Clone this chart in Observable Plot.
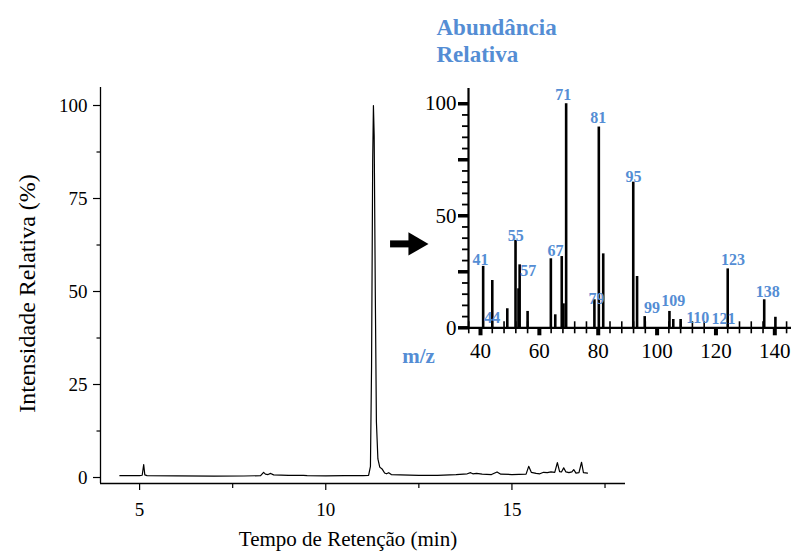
<!DOCTYPE html>
<html><head><meta charset="utf-8">
<script src="https://cdn.jsdelivr.net/npm/d3@7"></script>
<script src="https://cdn.jsdelivr.net/npm/@observablehq/plot@0.6"></script>
<style>
body{margin:0;background:#fff}
#wrap{position:relative;width:791px;height:552px}
#wrap svg{position:absolute;max-width:none}
</style>
</head><body><div id="wrap"></div>
<script>
// Chromatogram (retention time in min, relative intensity in %)
const chromTime = [4.47,5.0,5.07,5.11,5.14,5.2,6.0,7.0,7.8,8.25,8.33,8.38,8.45,8.52,8.6,9.0,9.4,9.5,10.0,10.5,11.0,11.15,11.2,11.23,11.26,11.28,11.3,11.33,11.36,11.4,11.45,11.52,11.58,11.63,11.69,11.76,12.0,12.5,13.0,13.5,13.8,13.89,13.95,14.05,14.2,14.45,14.6,14.7,15.0,15.38,15.45,15.52,15.65,15.75,15.85,15.95,16.05,16.15,16.22,16.28,16.33,16.39,16.45,16.53,16.61,16.66,16.72,16.8,16.87,16.92,17.03];
const chromIntensity = [0.5,0.5,0.6,3.5,0.7,0.5,0.45,0.35,0.4,0.5,1.4,0.9,0.8,1.1,0.7,0.55,0.6,0.5,0.45,0.5,0.5,0.6,3,30,85,100,92,50,15,5,2.8,2.2,1.2,1.0,1.3,0.8,0.7,0.6,0.6,0.8,1.0,1.3,1.0,1.1,0.9,0.8,1.5,0.9,0.8,0.9,3.0,1.4,1.1,1.0,1.4,1.3,1.5,1.4,4.0,1.6,1.5,2.6,1.5,1.3,1.5,2.1,1.2,1.3,4.1,1.3,1.2];

// Mass spectrum (inset)
const spectrumMz = [40.9,44.0,49.1,51.9,52.9,53.3,56.0,63.9,65.4,67.6,68.2,69.1,78.7,80.2,81.7,91.9,93.2,95.8,104.2,105.5,108.0,124.0,136.4,140.2];
const spectrumAbundance = [27.4,21.1,8.5,39,17.4,28.1,7.3,30.8,5.8,31.8,10.7,100,12.5,89.6,33,65,22.9,5,7.3,3.7,3.7,26.3,12.5,4.7];
const peakLabels = ["41","44","55","57","67","71","79","81","95","99","109","110","121","123","138"];
const peakLabelMz = [40.0,44.0,52.0,56.2,65.5,68.1,79.4,80.0,92.0,98.3,105.5,113.8,122.6,125.8,137.6];
const peakLabelAbundance = [30.4,4.3,41.2,25.6,34.2,104.1,12.9,93.7,67.5,8.7,11.9,4.4,3.8,30.3,16.0];

// Ticks
const chromXTicks = [5,10,15];
const chromXMinorTicks = [7.5,12.5,17.5];
const chromYTicks = [0,25,50,75,100];
const chromYMinorTicks = [12.5,37.5,62.5,87.5];
const insetXTicks = [40,60,80,100,120,140];
const insetXMinorTicks = [36,44,48,52,56,64,68,72,76,84,88,92,96,104,108,112,116,124,128,132,136,144];
const insetYLabeledTicks = [0,50,100];
const insetYMajorTicks = [25,75];
const insetYMinorTicks = [5,10,15,20,30,35,40,45,55,60,65,70,80,85,90,95];

// Texts
const xTitle = "Tempo de Retenção (min)";
const yTitle = "Intensidade Relativa (%)";
const insetTitle = "Abundância\nRelativa";
const insetXTitle = "m/z";

// Arrow annotation (in chromatogram units)
const arrowShaftTime = [11.74, 12.28];
const arrowHeadTime = 12.40;
const arrowLevel = 62.8;

const serif = "'Liberation Serif','Times New Roman',serif";
const blue = "#548dd4";

const chrom = chromTime.map((t, i) => ({t, v: chromIntensity[i]}));
const spectrum = spectrumMz.map((mz, i) => ({mz, a: spectrumAbundance[i]}));
const labels = peakLabels.map((text, i) => ({text, mz: peakLabelMz[i], a: peakLabelAbundance[i]}));

const xDom = [3.95, 18.05], yDom = [-1.61, 104.84];
const main = Plot.plot({
  width: 791, height: 552,
  marginLeft: 100, marginRight: 166, marginTop: 87, marginBottom: 69,
  style: {fontFamily: serif, fontSize: "19px", background: "transparent", color: "#000", overflow: "visible"},
  x: {domain: xDom}, y: {domain: yDom},
  marks: [
    Plot.ruleX([xDom[0]], {y1: yDom[0], y2: yDom[1], stroke: "#000", strokeWidth: 1.3}),
    Plot.ruleY([yDom[0]], {x1: xDom[0], x2: xDom[1], stroke: "#000", strokeWidth: 1.3}),
    Plot.axisY({ticks: chromYTicks, tickSize: 7, tickPadding: 6, fontSize: 19, label: null, stroke: "#000", strokeWidth: 1.2}),
    Plot.axisY({ticks: chromYMinorTicks, tickSize: 3.5, tickFormat: () => "", label: null, stroke: "#000", strokeWidth: 1.2}),
    Plot.axisX({ticks: chromXTicks, tickSize: 7, tickPadding: 12, fontSize: 19, label: null, stroke: "#000", strokeWidth: 1.2}),
    Plot.axisX({ticks: chromXMinorTicks, tickSize: 5, tickFormat: () => "", label: null, stroke: "#000", strokeWidth: 1.2}),
    Plot.line(chrom, {x: "t", y: "v", stroke: "#000", strokeWidth: 1.2}),
    Plot.text([xTitle], {frameAnchor: "bottom", textAnchor: "middle", lineAnchor: "middle", dx: -15, dy: 56, fontSize: 21, fill: "#000"}),
    Plot.text([yTitle], {frameAnchor: "left", textAnchor: "middle", lineAnchor: "middle", dx: -73, dy: 8, rotate: -90, fontSize: 24, fill: "#000"}),
    Plot.ruleY([arrowLevel], {x1: arrowShaftTime[0], x2: arrowShaftTime[1], stroke: "#000", strokeWidth: 7}),
    Plot.dot([arrowHeadTime], {x: d => d, y: () => arrowLevel, symbol: "triangle", r: 8.6, rotate: 90, fill: "#000", stroke: null})
  ]
});

const ixDom = [35.92, 145.67], iyDom = [0, 106.8];
const inset = Plot.plot({
  width: 411, height: 380,
  marginLeft: 88, marginRight: 0, marginTop: 88, marginBottom: 52.7,
  style: {fontFamily: serif, fontSize: "21px", background: "transparent", color: "#000", overflow: "visible"},
  x: {domain: ixDom}, y: {domain: iyDom},
  marks: [
    Plot.ruleX(spectrum, {x: "mz", y1: 0, y2: "a", stroke: "#000", strokeWidth: 2.6}),
    Plot.ruleY([0], {x1: ixDom[0], x2: ixDom[1], stroke: "#000", strokeWidth: 2.2}),
    Plot.ruleX([ixDom[0]], {y1: iyDom[0], y2: iyDom[1], stroke: "#000", strokeWidth: 2.2}),
    Plot.axisX({ticks: insetXMinorTicks, tickSize: 12, dy: -6, tickFormat: () => "", label: null, stroke: "#000", strokeWidth: 1.6}),
    Plot.axisX({ticks: insetXTicks, tickSize: 8, tickPadding: 7, fontSize: 21, label: null, stroke: "#000", strokeWidth: 4}),
    Plot.axisY({ticks: insetYMinorTicks, tickSize: 6, tickFormat: () => "", label: null, stroke: "#000", strokeWidth: 1.8}),
    Plot.axisY({ticks: insetYMajorTicks, tickSize: 10, tickFormat: () => "", label: null, stroke: "#000", strokeWidth: 3.5}),
    Plot.axisY({ticks: insetYLabeledTicks, tickSize: 10, tickPadding: 2, fontSize: 21, label: null, stroke: "#000", strokeWidth: 3.5}),
    Plot.text(labels, {x: "mz", y: "a", text: "text", fill: blue, fontWeight: "bold", fontSize: 16}),
    Plot.text([insetTitle], {frameAnchor: "top-left", dx: -32, dy: -72, textAnchor: "start", lineAnchor: "top", lineHeight: 1.16, fontSize: 23, fontWeight: "bold", fill: blue}),
    Plot.text([insetXTitle], {frameAnchor: "bottom-left", textAnchor: "middle", lineAnchor: "middle", dx: -50, dy: 28, fontSize: 21, fontWeight: "bold", fill: blue})
  ]
});

const wrap = document.getElementById("wrap");
main.style.left = "0px"; main.style.top = "0px";
inset.style.left = "380px"; inset.style.top = "0px";
wrap.appendChild(main);
wrap.appendChild(inset);
</script>
</body></html>
